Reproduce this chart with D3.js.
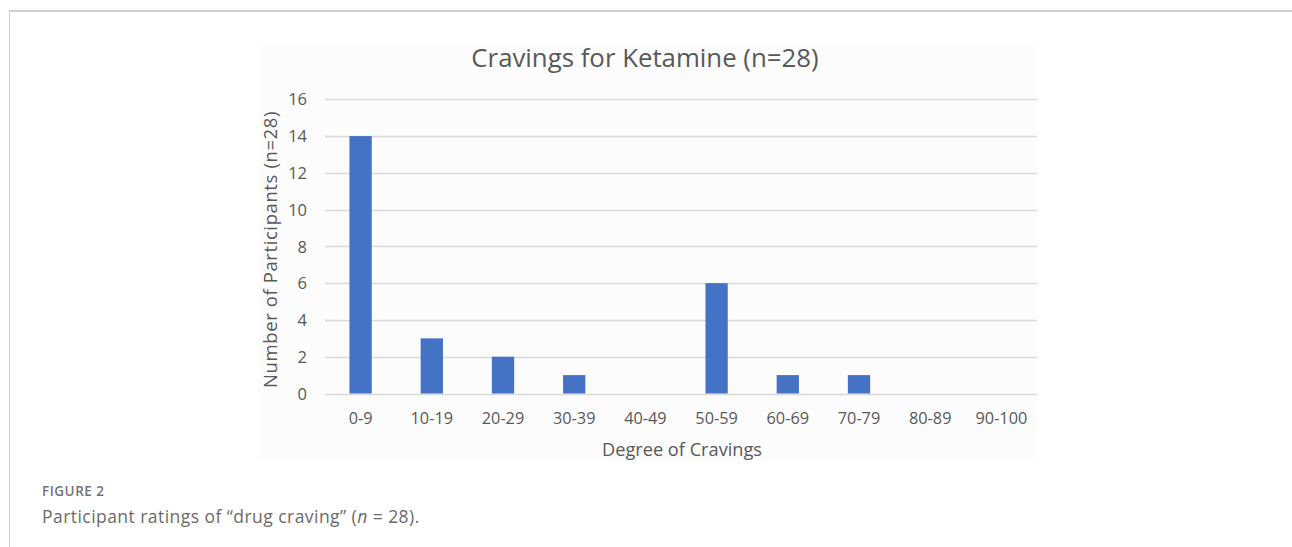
<!DOCTYPE html>
<html>
<head>
<meta charset="utf-8">
<script src="https://cdn.jsdelivr.net/npm/d3@7/dist/d3.min.js"></script>
<style>
  html, body { margin: 0; padding: 0; background: #ffffff; }
  svg { display: block; }
</style>
</head>
<body>
<svg id="fig" width="1292" height="547"></svg>
<script>
// Craving score bands and participant counts per band
const categories = ["0-9", "10-19", "20-29", "30-39", "40-49", "50-59", "60-69", "70-79", "80-89", "90-100"];
const counts = [14, 3, 2, 1, 0, 6, 1, 1, 0, 0];
const yTicks = [0, 2, 4, 6, 8, 10, 12, 14, 16];

const chartTitle = "Cravings for Ketamine (n=28)";
const xTitle = "Degree of Cravings";
const yTitle = "Number of Participants (n=28)";
const figLabel = "FIGURE 2";

const svg = d3.select("#fig");
const chartFont = "'Open Sans', sans-serif";
const textGrey = "#595959";

// Figure frame: top rule and left rule
svg.append("line").attr("x1", 9).attr("x2", 1292).attr("y1", 11).attr("y2", 11)
  .attr("stroke", "#cfcfcf").attr("stroke-width", 2);
svg.append("line").attr("x1", 9.5).attr("x2", 9.5).attr("y1", 10).attr("y2", 547)
  .attr("stroke", "#cfcfcf").attr("stroke-width", 1);

// Chart area background
svg.append("rect").attr("x", 259).attr("y", 43).attr("width", 779).attr("height", 417)
  .attr("fill", "#fcfcfc");

const plot = { left: 325, right: 1037, top: 99.3, bottom: 393.5 };

const x = d3.scaleBand()
  .domain(categories)
  .range([plot.left, plot.right])
  .paddingInner(0.687)
  .paddingOuter(0.3435);

const y = d3.scaleLinear()
  .domain([0, 16])
  .range([plot.bottom, plot.top]);

// Horizontal gridlines
svg.append("g")
  .selectAll("line")
  .data(yTicks)
  .join("line")
  .attr("x1", plot.left).attr("x2", plot.right)
  .attr("y1", d => Math.round(y(d)) + 0.5).attr("y2", d => Math.round(y(d)) + 0.5)
  .attr("stroke", "#d9d9d9").attr("stroke-width", 1.3);

// Bars
svg.append("g")
  .selectAll("rect")
  .data(categories.map((c, i) => ({ c, v: counts[i] })).filter(d => d.v > 0))
  .join("rect")
  .attr("x", d => x(d.c))
  .attr("width", x.bandwidth())
  .attr("y", d => y(d.v))
  .attr("height", d => y(0) - y(d.v))
  .attr("fill", "#4472c4");

// Y axis tick labels
const yAxis = d3.axisLeft(y).tickValues(yTicks).tickSize(0).tickPadding(0);
const gy = svg.append("g").attr("transform", `translate(307,0)`).call(yAxis);
gy.select(".domain").remove();
gy.selectAll("text")
  .attr("fill", textGrey)
  .attr("font-family", chartFont)
  .attr("font-size", 16.5)
  .attr("dy", "0.34em");

// X axis tick labels
const xAxis = d3.axisBottom(x).tickSize(0).tickPadding(0);
const gx = svg.append("g").attr("transform", `translate(0,${plot.bottom})`).call(xAxis);
gx.select(".domain").remove();
gx.selectAll("text")
  .attr("fill", textGrey)
  .attr("font-family", chartFont)
  .attr("font-size", 16.3)
  .attr("y", 25)
  .attr("dy", "0.34em");

// Titles
svg.append("text")
  .attr("x", 645).attr("y", 58)
  .attr("text-anchor", "middle").attr("dy", "0.35em")
  .attr("fill", textGrey).attr("font-family", chartFont).attr("font-size", 25.8)
  .text(chartTitle);

svg.append("text")
  .attr("x", 682).attr("y", 450)
  .attr("text-anchor", "middle").attr("dy", "0.35em")
  .attr("fill", textGrey).attr("font-family", chartFont).attr("font-size", 18.2)
  .text(xTitle);

svg.append("text")
  .attr("transform", `translate(271,249.5) rotate(-90)`)
  .attr("text-anchor", "middle").attr("dy", "0.35em")
  .attr("fill", textGrey).attr("font-family", chartFont).attr("font-size", 18.5)
  .attr("letter-spacing", 0.6)
  .text(yTitle);

// Figure caption
svg.append("text")
  .attr("x", 42).attr("y", 491).attr("dy", "0.35em")
  .attr("fill", "#737373").attr("font-family", "'Open Sans', sans-serif")
  .attr("font-size", 13.5).attr("font-weight", 600).attr("letter-spacing", 0.5)
  .text(figLabel);

const cap = svg.append("text")
  .attr("x", 42).attr("y", 517).attr("dy", "0.35em")
  .attr("fill", "#6b6b6b").attr("font-family", "'Open Sans', sans-serif")
  .attr("font-size", 17.5).attr("letter-spacing", 0.45);
cap.append("tspan").text("Participant ratings of \u201cdrug craving\u201d (");
cap.append("tspan").attr("font-style", "italic").text("n");
cap.append("tspan").text(" = 28).");
</script>
</body>
</html>
